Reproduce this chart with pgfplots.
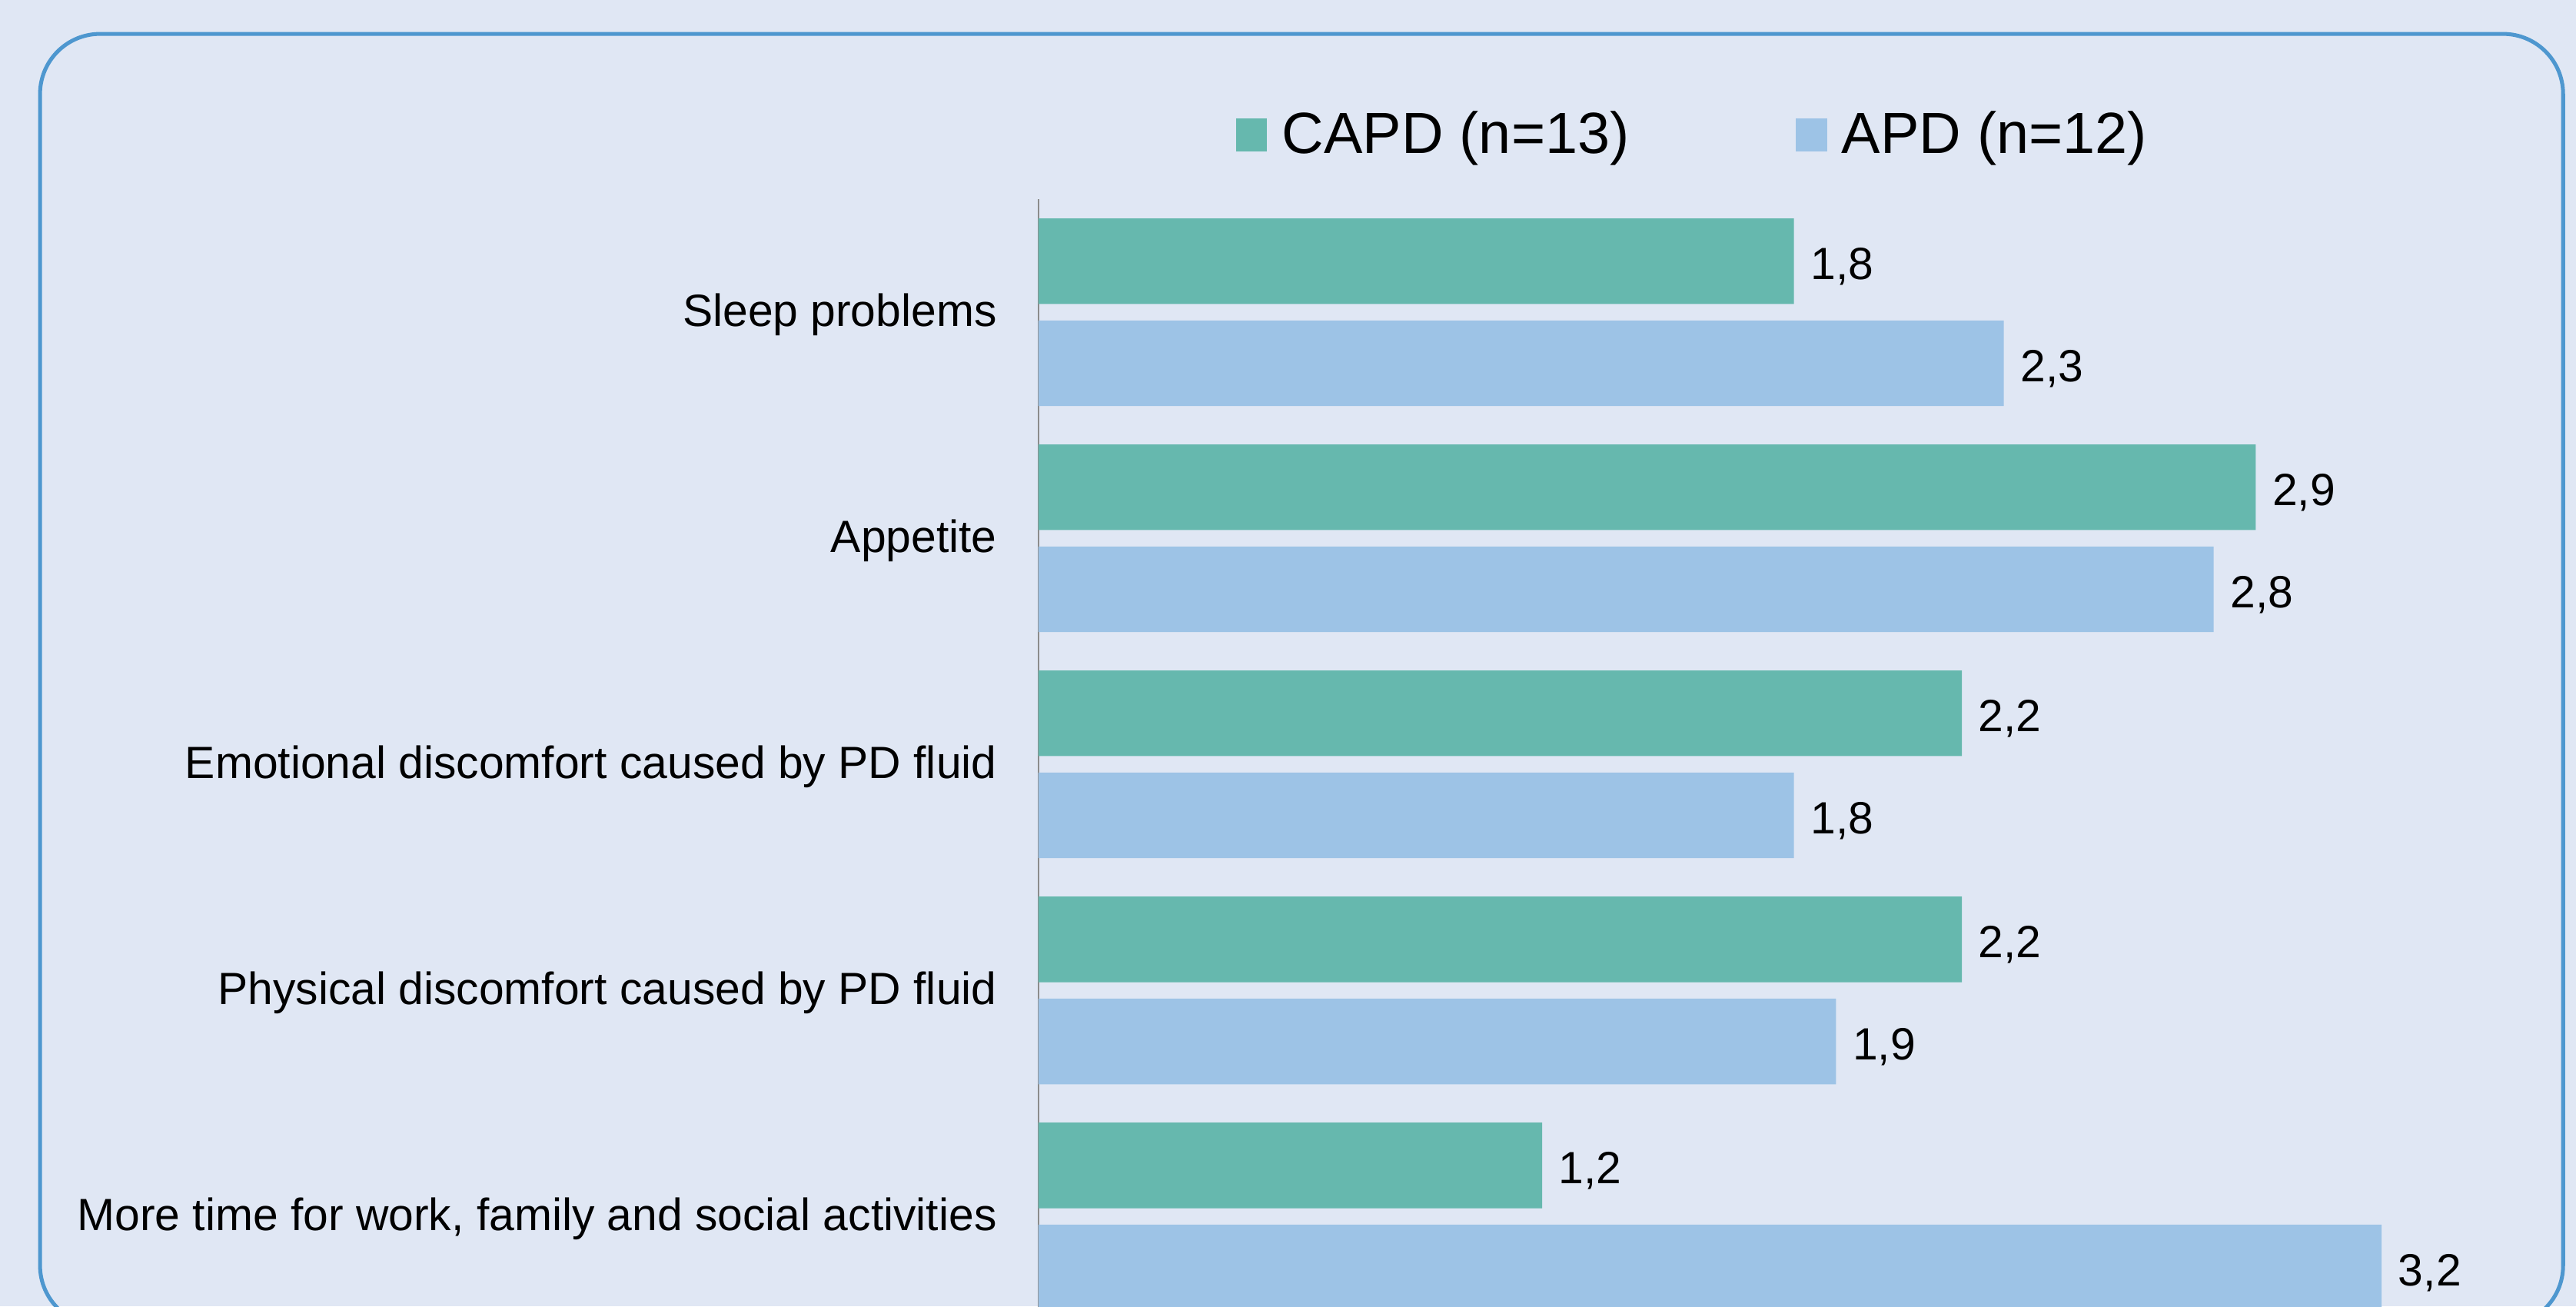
\documentclass[border=0pt]{standalone}
\usepackage{fontspec}
\setmainfont{Liberation Sans}
\usepackage{pgfplots}
\pgfplotsset{compat=1.18}
\definecolor{bg}{HTML}{E0E7F4}
\definecolor{frame}{HTML}{4E97CF}
\definecolor{capd}{HTML}{66B8AE}
\definecolor{apd}{HTML}{9DC3E6}
\definecolor{axgray}{HTML}{8C8C8C}
\begin{document}
\begin{tikzpicture}[x=1pt,y=1pt]
\path[use as bounding box] (0,0) rectangle (797.8,404.5);
\clip (0,0) rectangle (797.8,404.5);
\fill[bg] (0,0) rectangle (797.8,404.5);
\draw[frame, line width=1.2pt, rounded corners=18.6pt] (12.4,-6.0) rectangle (793.8,394.0);
\begin{axis}[
  at={(321.6pt,-14.2pt)}, anchor=south west,
  scale only axis, width=455pt, height=357pt,
  xbar, bar width=26.5pt,
  xmin=0, xmax=3.5, ymin=-0.6, ymax=4.5,
  axis x line=none, axis y line*=left,
  y axis line style={draw=axgray, line width=0.5pt},
  ytick={0,1,2,3,4},
  yticklabels={{More time for work, family and social activities},
               {Physical discomfort caused by PD fluid},
               {Emotional discomfort caused by PD fluid},
               {Appetite}, {Sleep problems}},
  major tick length=0pt,
  yticklabel style={font=\fontsize{14}{16}\selectfont, anchor=east, inner sep=0pt, xshift=-12.7pt, yshift=-0.8pt},
  nodes near coords,
  every node near coord/.append style={font=\fontsize{14}{16}\selectfont, anchor=west, inner sep=0pt, xshift=5pt, yshift=-1.6pt, black},
  /pgf/number format/use comma, /pgf/number format/fixed,
  /pgf/number format/fixed zerofill, /pgf/number format/precision=1,
  /pgf/number format/assume math mode=true,
  legend columns=2,
  legend style={at={(0.134,1.056)}, anchor=west, draw=none, fill=none, inner sep=0pt,
    font=\fontsize{18}{21}\selectfont, nodes={inner sep=0pt},
    /tikz/every odd column/.append style={column sep=4.6pt},
    /tikz/every even column/.append style={column sep=51.5pt}},
  legend image code/.code={\fill[#1] (0pt,-5.1pt) rectangle (9.7pt,5.1pt);},
]
\addplot[fill=capd, draw=none, bar shift=15.8pt] coordinates {
  (1.2,0) (2.2,1) (2.2,2) (2.9,3) (1.8,4)};
\addlegendentry{CAPD (n=13)}
\addplot[fill=apd, draw=none, bar shift=-15.8pt] coordinates {
  (3.2,0) (1.9,1) (1.8,2) (2.8,3) (2.3,4)};
\addlegendentry{APD (n=12)}
\end{axis}
\end{tikzpicture}
\end{document}
